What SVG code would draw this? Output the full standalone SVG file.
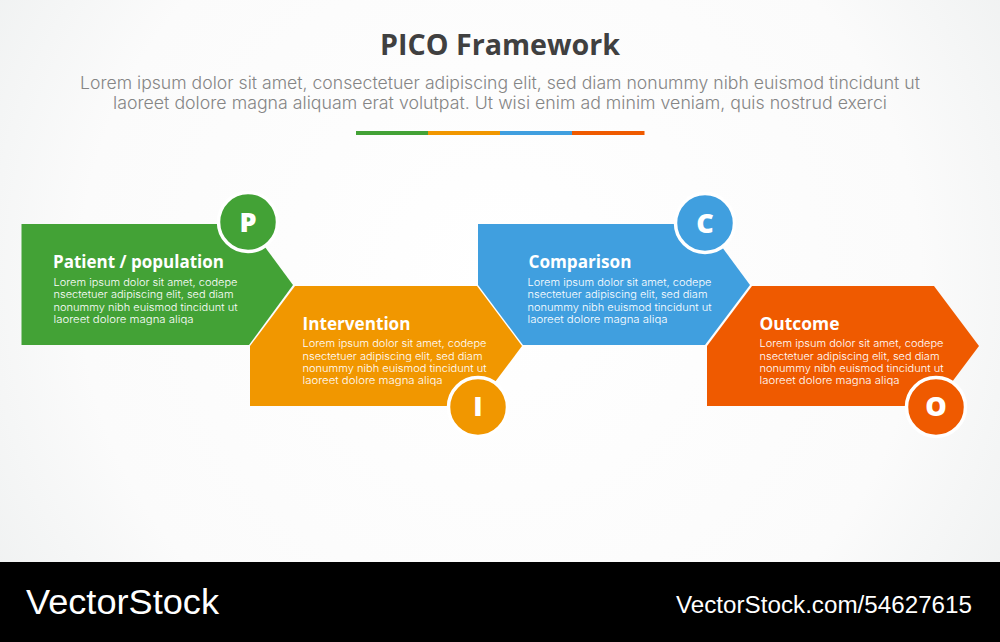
<svg xmlns="http://www.w3.org/2000/svg" width="1000" height="642" viewBox="0 0 1000 642">
<style>
.h{font-family:"Open Sans","Noto Sans",sans-serif;font-weight:700;font-size:18.5px;fill:#fff}
.b{font-family:"Inter","Liberation Sans",sans-serif;font-weight:300;font-size:10.6px;fill:#fff}
.l{font-family:"Open Sans","Noto Sans",sans-serif;font-weight:800;font-size:27px;fill:#fff;text-anchor:middle}
.s{font-family:"Inter","Liberation Sans",sans-serif;font-weight:300;font-size:17px;fill:#858585}
.w{font-family:"Liberation Sans",Arial,sans-serif;fill:#fff}
.ring{stroke:#fff;stroke-width:3.500}
</style>
<defs>
<radialGradient id="bg" gradientUnits="userSpaceOnUse" cx="500" cy="280" r="600">
<stop offset="0" stop-color="#ffffff"/><stop offset="0.7" stop-color="#fbfbfb"/><stop offset="1" stop-color="#eff1f1"/>
</radialGradient>
</defs>
<rect width="1000" height="562" fill="url(#bg)"/>
<rect y="562" width="1000" height="80" fill="#000"/>
<g id="header">
<text x="500" y="54.500" text-anchor="middle" font-family="'Open Sans','Noto Sans',sans-serif" font-weight="700" font-size="28.5" fill="#404040" textLength="240" lengthAdjust="spacingAndGlyphs">PICO Framework</text>
<text class="s" x="80" y="89" textLength="840" lengthAdjust="spacingAndGlyphs">Lorem ipsum dolor sit amet, consectetuer adipiscing elit, sed diam nonummy nibh euismod tincidunt ut</text>
<text class="s" x="113" y="109" textLength="774" lengthAdjust="spacingAndGlyphs">laoreet dolore magna aliquam erat volutpat. Ut wisi enim ad minim veniam, quis nostrud exerci</text>
<rect x="356" y="131" width="72.5" height="4" fill="#43a236"/>
<rect x="428" y="131" width="72" height="4" fill="#f19700"/>
<rect x="500" y="131" width="72" height="4" fill="#409fdf"/>
<rect x="572" y="131" width="72.5" height="4" fill="#ef5a00"/>
</g>
<g id="connectors"></g>
<g id="node-p">
<polygon points="21.5,224 248,224 293,285 249,345 21.5,345" fill="#43a236"/>
<circle class="ring" cx="248" cy="222" r="29.500" fill="#43a236"/>
<text class="l" x="248" y="232">P</text>
<text class="h" x="53" y="268" textLength="171" lengthAdjust="spacingAndGlyphs">Patient / population</text>
<text class="b" x="53.500" y="286" textLength="184" lengthAdjust="spacingAndGlyphs">Lorem ipsum dolor sit amet, codepe</text>
<text class="b" x="53.500" y="298" textLength="180" lengthAdjust="spacingAndGlyphs">nsectetuer adipiscing elit, sed diam</text>
<text class="b" x="53.500" y="311" textLength="184" lengthAdjust="spacingAndGlyphs">nonummy nibh euismod tincidunt ut</text>
<text class="b" x="53.500" y="323" textLength="140" lengthAdjust="spacingAndGlyphs">laoreet dolore magna aliqa</text>
</g>
<g id="node-i">
<polygon points="250,346 295,286 477,286 522,346 477,406 250,406" fill="#f19700"/>
<circle class="ring" cx="478" cy="407" r="29.500" fill="#f19700"/>
<text class="l" x="478" y="416">I</text>
<text class="h" x="302.500" y="330" textLength="108" lengthAdjust="spacingAndGlyphs">Intervention</text>
<text class="b" x="302.500" y="346.500" textLength="184" lengthAdjust="spacingAndGlyphs">Lorem ipsum dolor sit amet, codepe</text>
<text class="b" x="302.500" y="359.500" textLength="180" lengthAdjust="spacingAndGlyphs">nsectetuer adipiscing elit, sed diam</text>
<text class="b" x="302.500" y="371.500" textLength="184" lengthAdjust="spacingAndGlyphs">nonummy nibh euismod tincidunt ut</text>
<text class="b" x="302.500" y="384" textLength="140" lengthAdjust="spacingAndGlyphs">laoreet dolore magna aliqa</text>
</g>
<g id="node-c">
<polygon points="478,224 705,224 750,285 705,345 523,345 478,285" fill="#409fdf"/>
<circle class="ring" cx="705" cy="223" r="29.500" fill="#409fdf"/>
<text class="l" x="705" y="233">C</text>
<text class="h" x="528.500" y="268" textLength="103" lengthAdjust="spacingAndGlyphs">Comparison</text>
<text class="b" x="527.500" y="286" textLength="184" lengthAdjust="spacingAndGlyphs">Lorem ipsum dolor sit amet, codepe</text>
<text class="b" x="527.500" y="298" textLength="180" lengthAdjust="spacingAndGlyphs">nsectetuer adipiscing elit, sed diam</text>
<text class="b" x="527.500" y="311" textLength="184" lengthAdjust="spacingAndGlyphs">nonummy nibh euismod tincidunt ut</text>
<text class="b" x="527.500" y="323" textLength="140" lengthAdjust="spacingAndGlyphs">laoreet dolore magna aliqa</text>
</g>
<g id="node-o">
<polygon points="707,346 752,286 934,286 979,346 934,406 707,406" fill="#ef5a00"/>
<circle class="ring" cx="936" cy="407" r="29.500" fill="#ef5a00"/>
<text class="l" x="936" y="416">O</text>
<text class="h" x="759.500" y="330" textLength="80" lengthAdjust="spacingAndGlyphs">Outcome</text>
<text class="b" x="759.500" y="346.500" textLength="184" lengthAdjust="spacingAndGlyphs">Lorem ipsum dolor sit amet, codepe</text>
<text class="b" x="759.500" y="359.500" textLength="180" lengthAdjust="spacingAndGlyphs">nsectetuer adipiscing elit, sed diam</text>
<text class="b" x="759.500" y="371.500" textLength="184" lengthAdjust="spacingAndGlyphs">nonummy nibh euismod tincidunt ut</text>
<text class="b" x="759.500" y="384" textLength="140" lengthAdjust="spacingAndGlyphs">laoreet dolore magna aliqa</text>
</g>
<g id="footer">
<text class="w" x="26" y="614" font-size="35" textLength="193" lengthAdjust="spacingAndGlyphs">VectorStock</text>
<text class="w" x="676" y="613" font-size="23.5" textLength="296" lengthAdjust="spacingAndGlyphs">VectorStock.com/54627615</text>
</g>
</svg>
